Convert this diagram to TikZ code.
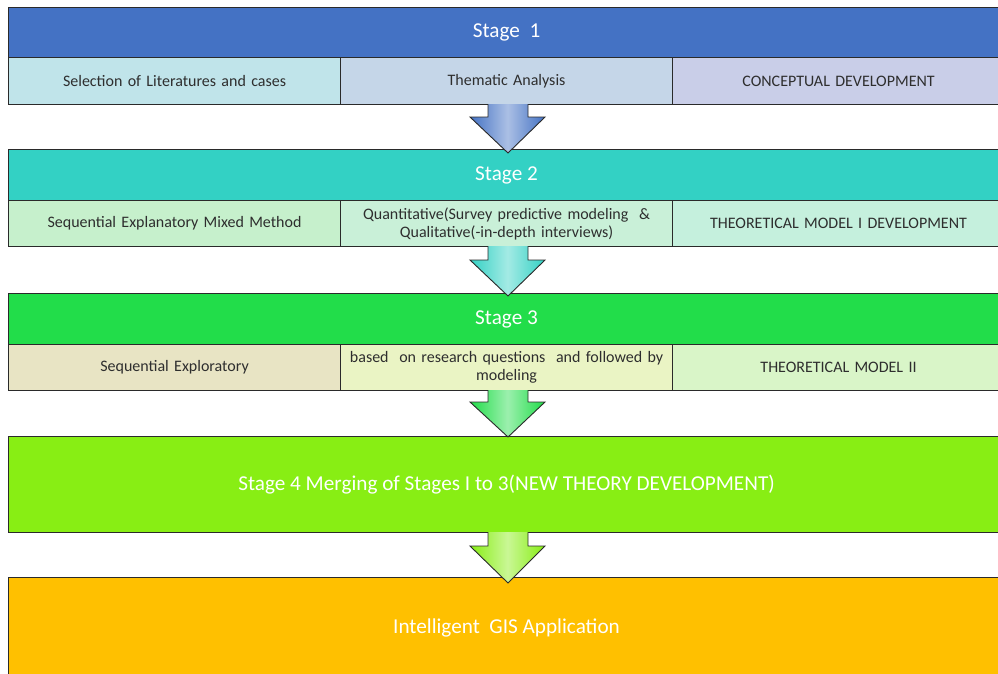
\documentclass[tikz,border=0pt]{standalone}
\usepackage{fontspec}
\setmainfont{Carlito}
\usetikzlibrary{calc}
\definecolor{hA}{HTML}{4472C4}
\definecolor{hB}{HTML}{33D1C4}
\definecolor{hC}{HTML}{22DD4A}
\definecolor{hD}{HTML}{88EE14}
\definecolor{hE}{HTML}{FFC000}
\definecolor{a1}{HTML}{C0E4EA}
\definecolor{a2}{HTML}{C5D6E8}
\definecolor{a3}{HTML}{C9CEE8}
\definecolor{b1}{HTML}{C6F0CC}
\definecolor{b2}{HTML}{C9F0D8}
\definecolor{b3}{HTML}{C5F0DD}
\definecolor{c1}{HTML}{E8E4C4}
\definecolor{c2}{HTML}{EAF4C4}
\definecolor{c3}{HTML}{D9F5C8}
\definecolor{txt}{HTML}{2E2E2E}
\definecolor{edge}{HTML}{2A2A2A}
\tikzset{
  box/.style={draw=edge, line width=1.1pt, anchor=north west, inner sep=2pt, align=center},
  hdr/.style={box, text=white, font=\fontsize{21.2}{24}\selectfont},
  cell/.style={box, text=txt, font=\fontsize{16}{18}\selectfont, minimum width=332pt, text width=328pt},
  arr/.style={draw=edge, line width=0.9pt, line join=miter},
}
\newcommand\stagearrow[4]{% node above, node below, head corner y, colour
  \path (#1.south) ++(-20pt,0) coordinate (sl) ++(40pt,0) coordinate (sr);
  \path (#2.north) coordinate (tp);
  \draw[arr, left color=#4, right color=#4, middle color=white!55!#4]
    (sl) -- (sl |- 0,#3) -- ++(-18pt,0) -- (tp) -- ($(sr |- 0,#3)+(17pt,0)$) -- (sr |- 0,#3) -- (sr);
}
\begin{document}
\begin{tikzpicture}[x=1pt,y=-1pt]
\useasboundingbox (0,0) rectangle (998,673);
\clip (0,0) rectangle (998,673);
% Stage 1
\node[hdr, fill=hA, minimum width=996pt, minimum height=50pt] (s1) at (8,7) {Stage~~1};
\node[cell, fill=a1, minimum height=47pt] (s1a) at (8,57) {Selection of Literatures and cases};
\node[cell, fill=a2, minimum height=47pt] (s1b) at (340,57) {Thematic Analysis};
\node[cell, fill=a3, minimum height=47pt] (s1c) at (672,57) {CONCEPTUAL DEVELOPMENT};
% Stage 2
\node[hdr, fill=hB, minimum width=996pt, minimum height=51pt] (s2) at (8,149) {Stage 2};
\node[cell, fill=b1, minimum height=46pt] (s2a) at (8,200) {Sequential Explanatory Mixed Method};
\node[cell, fill=b2, minimum height=46pt] (s2b) at (340,200) {Quantitative(Survey predictive modeling~~\&\\Qualitative(-in-depth interviews)};
\node[cell, fill=b3, minimum height=46pt] (s2c) at (672,200) {THEORETICAL MODEL I DEVELOPMENT};
% Stage 3
\node[hdr, fill=hC, minimum width=996pt, minimum height=51pt] (s3) at (8,293) {Stage 3};
\node[cell, fill=c1, minimum height=46pt] (s3a) at (8,344) {Sequential Exploratory};
\node[cell, fill=c2, minimum height=46pt] (s3b) at (340,344) {based~~on research questions~~and followed by\\modeling};
\node[cell, fill=c3, minimum height=46pt] (s3c) at (672,344) {THEORETICAL MODEL II};
% Stage 4
\node[hdr, fill=hD, minimum width=996pt, minimum height=96pt] (s4) at (8,436) {Stage 4 Merging of Stages I to 3(NEW THEORY DEVELOPMENT)};
% Stage 5
\node[hdr, fill=hE, minimum width=996pt, minimum height=100pt] (s5) at (8,577) {Intelligent~~GIS Application};
% arrows
\coordinate (m1) at (508,104); \coordinate (n1) at (508,153);
\coordinate (m2) at (508,246); \coordinate (n2) at (508,296);
\coordinate (m3) at (508,390); \coordinate (n3) at (508,437);
\coordinate (m4) at (508,532); \coordinate (n4) at (508,583);
\stagearrow{m1}{n1}{117}{hA}
\stagearrow{m2}{n2}{260}{hB}
\stagearrow{m3}{n3}{402}{hC}
\stagearrow{m4}{n4}{546}{hD}
\end{tikzpicture}
\end{document}
